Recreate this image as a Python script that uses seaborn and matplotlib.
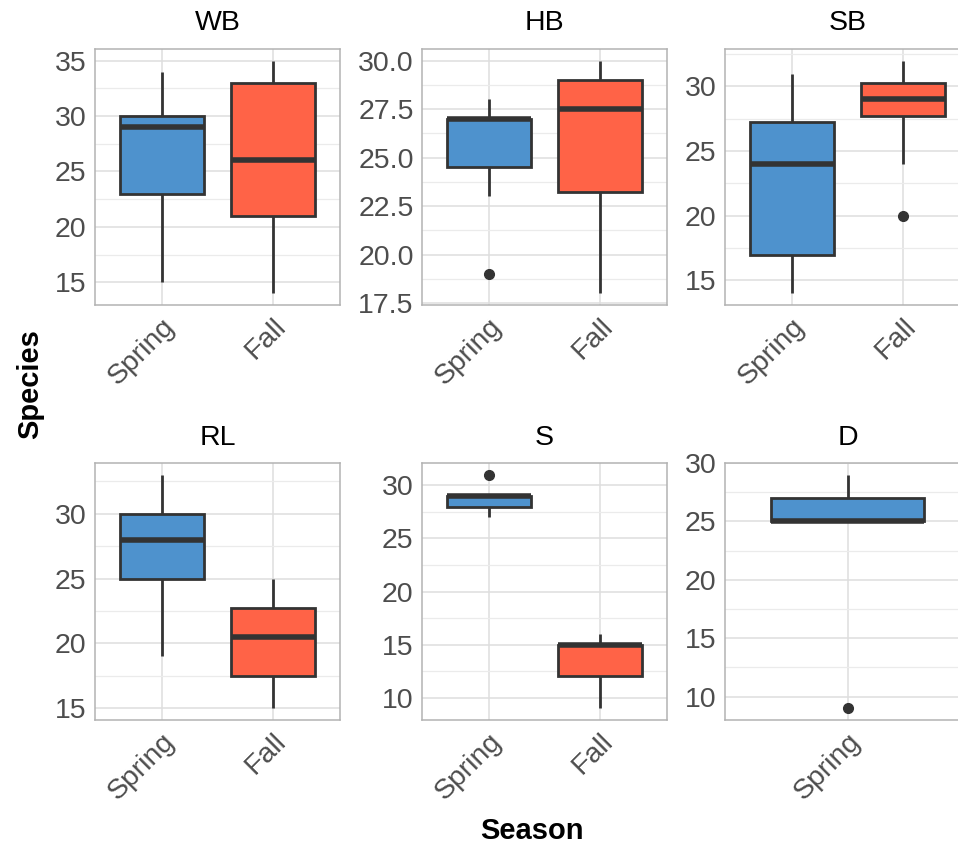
import numpy as np
import pandas as pd
import matplotlib
matplotlib.use("Agg")
import matplotlib.pyplot as plt
import seaborn as sns
from matplotlib.ticker import MultipleLocator, FormatStrFormatter

# ---- data ----
species = ["WB", "HB", "SB", "RL", "S", "D"]
seasons = ["Spring", "Fall"]

wb_spring = [15, 23, 29, 30, 34]
wb_fall = [14, 21, 26, 33, 35]
hb_spring = [19, 23, 26, 27, 27, 27, 28]
hb_fall = [18, 20, 23, 24, 27, 28, 29, 29, 30, 30]
sb_spring = [14, 15, 17, 17, 20, 24, 24, 26, 27, 28, 30, 31]
sb_fall = [20, 24, 27, 28, 28, 29, 29, 30, 30, 31, 31, 32]
rl_spring = [19, 22, 25, 27, 28, 29, 30, 32, 33]
rl_fall = [15, 16, 17, 19, 20, 21, 22, 23, 24, 25]
s_spring = [27, 28, 28, 29, 29, 29, 31]
s_fall = [9, 12, 12, 15, 15, 15, 16]
d_spring = [9, 25, 25, 25, 27, 27, 29]

y_steps = {"WB": 5, "HB": 2.5, "SB": 5, "RL": 5, "S": 5, "D": 5}

counts = {
    ("WB", "Spring"): wb_spring, ("WB", "Fall"): wb_fall,
    ("HB", "Spring"): hb_spring, ("HB", "Fall"): hb_fall,
    ("SB", "Spring"): sb_spring, ("SB", "Fall"): sb_fall,
    ("RL", "Spring"): rl_spring, ("RL", "Fall"): rl_fall,
    ("S", "Spring"): s_spring, ("S", "Fall"): s_fall,
    ("D", "Spring"): d_spring,
}
rows = []
for (sp, se), vals in counts.items():
    for v in vals:
        rows.append({"Species": sp, "Season": se, "Count": v})
df = pd.DataFrame(rows)

palette = {"Spring": "#4E92CD", "Fall": "#FF6347"}

sns.set_theme(style="white")
plt.rcParams["font.family"] = ["Liberation Sans", "DejaVu Sans"]

W, H = 958, 844
fig = plt.figure(figsize=(W / 100, H / 100), dpi=100)
fig.patch.set_facecolor("white")

col_left = [95, 422, 725]
pw = 245
row_top = [49, 463]
ph = [256, 257]
title_y = [23.5, 438]

for i, sp in enumerate(species):
    r, c = divmod(i, 3)
    ax = fig.add_axes([col_left[c] / W, 1 - (row_top[r] + ph[r]) / H, pw / W, ph[r] / H])
    sub = df[df.Species == sp]
    order = [s for s in seasons if s in set(sub.Season)]
    sns.boxplot(
        data=sub, x="Season", y="Count", hue="Season", order=order, hue_order=order,
        palette=palette, saturation=1, width=0.75, linewidth=2.0, linecolor="#333333",
        fliersize=7, legend=False, dodge=False, ax=ax, showcaps=False,
        medianprops=dict(linewidth=4.0, color="#333333"),
        flierprops=dict(marker="o", markerfacecolor="#333333", markeredgecolor="#333333"),
        zorder=3,
    )
    lo, hi = sub.Count.min(), sub.Count.max()
    pad = 0.05 * (hi - lo)
    ax.set_ylim(lo - pad, hi + pad)
    ax.set_xlim(-0.6, len(order) - 0.4)
    step = y_steps[sp]
    ax.yaxis.set_major_locator(MultipleLocator(step))
    ax.yaxis.set_minor_locator(MultipleLocator(step / 2))
    if sp == "HB":
        ax.yaxis.set_major_formatter(FormatStrFormatter("%.1f"))
    ax.set_axisbelow(True)
    ax.grid(True, which="major", axis="both", color="#DEDEDE", linewidth=1.1)
    ax.grid(True, which="minor", axis="y", color="#EBEBEB", linewidth=0.9)
    for s in ax.spines.values():
        s.set_color("#B3B3B3")
        s.set_linewidth(1.1)
    ax.tick_params(axis="both", which="major", colors="#B3B3B3", labelcolor="#4D4D4D",
                   labelsize=20.5, length=4, width=1, pad=2)
    ax.tick_params(axis="y", which="minor", length=0)
    for lbl in ax.get_xticklabels():
        lbl.set_rotation(45)
        lbl.set_ha("right")
        lbl.set_va("top")
        lbl.set_rotation_mode("anchor")
    ax.set_xlabel("")
    ax.set_ylabel("")
    cx = (col_left[c] + pw / 2) / W
    fig.text(cx, 1 - title_y[r] / H, sp, ha="center", va="center", fontsize=20.5, color="black")

fig.text(30 / W, 1 - 384 / H, "Species", rotation=90, ha="center", va="center",
         fontsize=21, fontweight="bold", color="black")
fig.text(532 / W, 1 - 831 / H, "Season", ha="center", va="center",
         fontsize=21, fontweight="bold", color="black")

fig.savefig("out.png", dpi=100, facecolor="white")
